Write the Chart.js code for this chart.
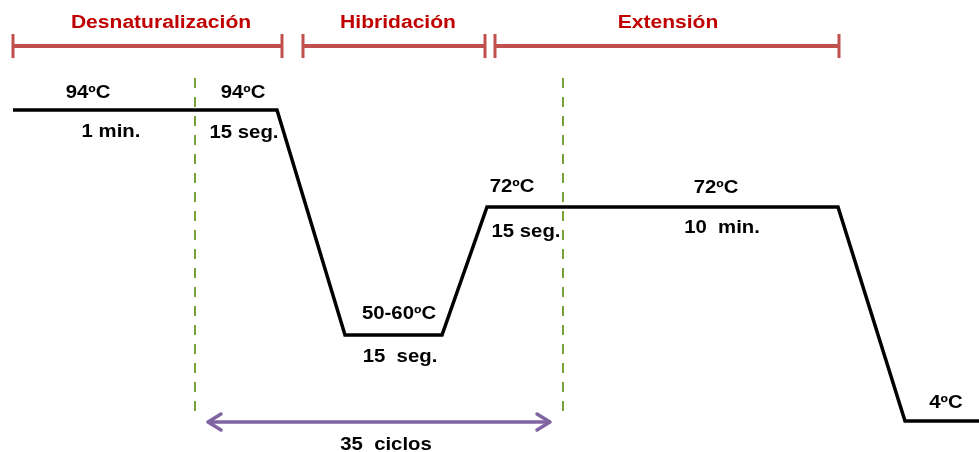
<!DOCTYPE html>
<html><head><meta charset="utf-8">
<script src="https://cdn.jsdelivr.net/npm/chart.js@4/dist/chart.umd.min.js"></script>
<style>html,body{margin:0;padding:0;background:#fff}#wrap{width:979px;height:452px}</style>
</head><body><div id="wrap"><canvas id="c"></canvas></div>
<script>
// Schematic thermal profile (x: time position, y: vertical level in the drawing)
const profileX = [13, 277, 345, 442, 487, 838, 905, 979];
const profileY = [110, 110, 335, 335, 207, 207, 421, 421];

// Cycle boundaries (dashed)
const cycleX = [195, 563];
const cycleYRange = [78, 418];

// Phase bars
const phaseNames = ['Desnaturalización', 'Hibridación', 'Extensión'];
const phaseStart = [13, 303, 495];
const phaseEnd = [282, 485, 839];
const phaseLabelX = [161, 398, 668];
const phaseBarY = 46;
const phaseLabelY = 28;

// Step labels (baseline positions)
const stepLabels = ['94ºC', '1 min.', '94ºC', '15 seg.', '50-60ºC', '15  seg.', '72ºC', '15 seg.', '72ºC', '10  min.', '4ºC'];
const stepLabelX = [88, 111, 243, 244, 399, 400, 512, 526, 716, 722, 946];
const stepLabelY = [98, 137, 98, 138, 319, 362, 192, 237, 193, 233, 408];

// Cycles arrow
const cyclesLabel = '35  ciclos';
const cyclesLabelX = 386;
const cyclesArrowX = [208, 550];
const cyclesArrowY = 422;
const cyclesLabelY = 450;

const datasets = [{
  data: profileX.map((x, i) => ({x, y: profileY[i]})),
  borderColor: '#000', borderWidth: 3.5, pointRadius: 0, tension: 0, borderJoinStyle: 'miter', clip: false
}];
cycleX.forEach(x => datasets.push({
  data: [{x, y: cycleYRange[0]}, {x, y: cycleYRange[1]}],
  borderColor: '#77a03a', borderWidth: 2, borderDash: [10, 9], pointRadius: 0
}));

function wideText(ctx, t, x, y, sx) {
  ctx.save(); ctx.translate(x, y); ctx.scale(sx, 1); ctx.fillText(t, 0, 0); ctx.restore();
}

const overlay = {
  id: 'overlay',
  afterDatasetsDraw(chart) {
    const ctx = chart.ctx, xs = chart.scales.x, ys = chart.scales.y;
    const X = v => xs.getPixelForValue(v), Y = v => ys.getPixelForValue(v);
    ctx.save();
    ctx.textAlign = 'center'; ctx.textBaseline = 'alphabetic';
    // phase bars
    ctx.strokeStyle = '#c0504d'; ctx.lineCap = 'butt';
    phaseNames.forEach((n, i) => {
      const y = Y(phaseBarY), x0 = X(phaseStart[i]), x1 = X(phaseEnd[i]);
      ctx.lineWidth = 4;
      ctx.beginPath(); ctx.moveTo(x0, y); ctx.lineTo(x1, y); ctx.stroke();
      ctx.lineWidth = 3;
      ctx.beginPath(); ctx.moveTo(x0, y - 12); ctx.lineTo(x0, y + 12);
      ctx.moveTo(x1, y - 12); ctx.lineTo(x1, y + 12); ctx.stroke();
      ctx.fillStyle = '#c00000'; ctx.font = 'bold 18px "Liberation Sans", Arial, sans-serif';
      wideText(ctx, n, X(phaseLabelX[i]), Y(phaseLabelY), 1.17);
    });
    // step labels
    ctx.fillStyle = '#000'; ctx.font = 'bold 18px "Liberation Sans", Arial, sans-serif';
    stepLabels.forEach((t, i) => wideText(ctx, t, X(stepLabelX[i]), Y(stepLabelY[i]), 1.13));
    // cycles arrow
    const ay = Y(cyclesArrowY), ax0 = X(cyclesArrowX[0]), ax1 = X(cyclesArrowX[1]);
    ctx.strokeStyle = '#8064a2'; ctx.lineWidth = 3.5; ctx.lineCap = 'round'; ctx.lineJoin = 'round';
    ctx.beginPath(); ctx.moveTo(ax0 + 2, ay); ctx.lineTo(ax1 - 2, ay); ctx.stroke();
    ctx.beginPath();
    ctx.moveTo(ax0 + 13, ay - 8); ctx.lineTo(ax0, ay); ctx.lineTo(ax0 + 13, ay + 8);
    ctx.moveTo(ax1 - 13, ay - 8); ctx.lineTo(ax1, ay); ctx.lineTo(ax1 - 13, ay + 8);
    ctx.stroke();
    ctx.fillStyle = '#000';
    wideText(ctx, cyclesLabel, X(cyclesLabelX), Y(cyclesLabelY), 1.13);
    ctx.restore();
  }
};

new Chart(document.getElementById('c'), {
  type: 'line',
  data: {datasets},
  options: {
    responsive: true, maintainAspectRatio: false, animation: false,
    layout: {padding: 0},
    plugins: {legend: {display: false}, tooltip: {enabled: false}},
    scales: {
      x: {type: 'linear', min: 0, max: 979, display: false},
      y: {type: 'linear', min: 0, max: 452, reverse: true, display: false}
    }
  },
  plugins: [overlay]
});
</script></body></html>
